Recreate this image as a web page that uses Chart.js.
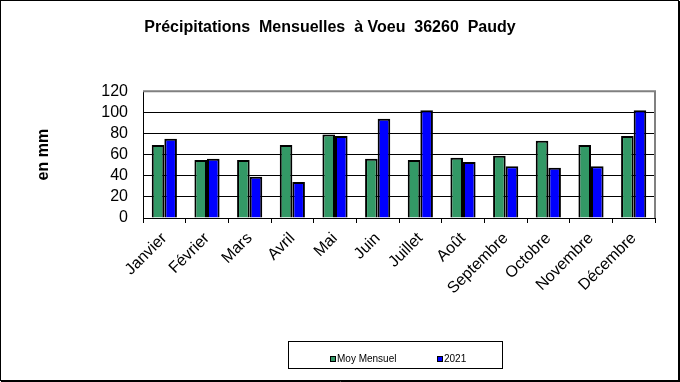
<!DOCTYPE html>
<html><head><meta charset="utf-8">
<script src="https://cdn.jsdelivr.net/npm/chart.js@4.4.1/dist/chart.umd.min.js"></script>
<style>html,body{margin:0;padding:0;background:#fff;overflow:hidden}canvas{display:block}</style>
</head><body>
<canvas id="c" width="680" height="382"></canvas>
<script>
const months = ['Janvier','Février','Mars','Avril','Mai','Juin','Juillet','Août','Septembre','Octobre','Novembre','Décembre'];
const moyMensuel = [69, 55, 55, 69, 79, 56, 55, 57, 59, 73, 69, 77.5];
const pluie2021 = [75, 56, 39, 34, 77.5, 94, 102, 53, 49, 47.5, 49, 102];
const seriesNames = ['Moy Mensuel', '2021'];
const yMin = 0, yMax = 120, yStep = 20;
const titleText = 'Précipitations  Mensuelles  à Voeu  36260  Paudy';
const yTitleText = 'en mm';

const FONT = '"Liberation Sans", Arial, sans-serif';

const framePlugin = {
  id: 'frame',
  afterDatasetsDraw(chart) {
    const {ctx, chartArea: a} = chart;
    ctx.save();
    ctx.strokeStyle = '#808080';
    ctx.lineWidth = 2;
    ctx.beginPath();
    ctx.moveTo(a.left, a.top);
    ctx.lineTo(a.right, a.top);
    ctx.lineTo(a.right, a.bottom);
    ctx.stroke();
    ctx.restore();
  },
  afterDraw(chart) {
    const {ctx} = chart;
    ctx.save();
    // outer chart border
    ctx.strokeStyle = '#000';
    ctx.lineWidth = 1;
    ctx.strokeRect(0.5, 0.5, 678, 380);
    ctx.beginPath();
    ctx.moveTo(679.5, 1); ctx.lineTo(679.5, 382);
    ctx.moveTo(1, 381.5); ctx.lineTo(680, 381.5);
    ctx.stroke();
    // legend box
    ctx.strokeRect(288.5, 341.5, 214, 27);
    const items = [{x: 330.5}, {x: 437.5}];
    ctx.font = '10px ' + FONT;
    ctx.textBaseline = 'alphabetic';
    ctx.textAlign = 'left';
    chart.data.datasets.forEach((ds, i) => {
      const x = items[i].x;
      ctx.fillStyle = ds.backgroundColor;
      ctx.fillRect(x, 356.5, 5, 5);
      ctx.strokeStyle = '#000';
      ctx.strokeRect(x, 356.5, 5, 5);
      ctx.fillStyle = '#000';
      ctx.fillText(ds.label, x + 6.5, 362);
    });
    ctx.restore();
  }
};

new Chart(document.getElementById('c'), {
  type: 'bar',
  data: {
    labels: months,
    datasets: [
      {label: seriesNames[0], data: moyMensuel, backgroundColor: '#339966', borderColor: '#000', borderWidth: 2, borderSkipped: 'bottom'},
      {label: seriesNames[1], data: pluie2021, backgroundColor: '#0000FF', borderColor: '#000', borderWidth: 2, borderSkipped: 'bottom'}
    ]
  },
  options: {
    responsive: false,
    animation: false,
    devicePixelRatio: 1,
    layout: {padding: {left: 5, right: 25, top: 0, bottom: 64}},
    datasets: {bar: {categoryPercentage: 0.59, barPercentage: 1.0}},
    plugins: {
      legend: {display: false},
      tooltip: {enabled: false},
      title: {
        display: true,
        text: titleText,
        color: '#000',
        font: {family: FONT, size: 16, weight: 'bold'},
        padding: {top: 18, bottom: 54}
      }
    },
    scales: {
      x: {
        grid: {display: true, drawOnChartArea: false, drawTicks: true, tickLength: 5, tickColor: '#000', offset: true},
        border: {display: true, color: '#000', width: 1},
        ticks: {color: '#000', font: {family: FONT, size: 16}, maxRotation: 45, minRotation: 45, autoSkip: false, padding: 6},
        afterFit(scale) { scale.height = 100; }
      },
      y: {
        min: yMin, max: yMax,
        grid: {color: ctx => (ctx.tick && ctx.tick.value === yMax) ? '#808080' : '#000', lineWidth: 1, drawTicks: false},
        border: {display: true, color: '#000', width: 1},
        ticks: {stepSize: yStep, autoSkip: false, color: '#000', font: {family: FONT, size: 16}, padding: 15},
        title: {display: true, text: yTitleText, color: '#000', font: {family: FONT, size: 16, weight: 'bold'}, padding: {top: 29, bottom: 20}},
        afterFit(scale) { scale.width = 138; }
      }
    }
  },
  plugins: [framePlugin]
});
</script>
</body></html>
